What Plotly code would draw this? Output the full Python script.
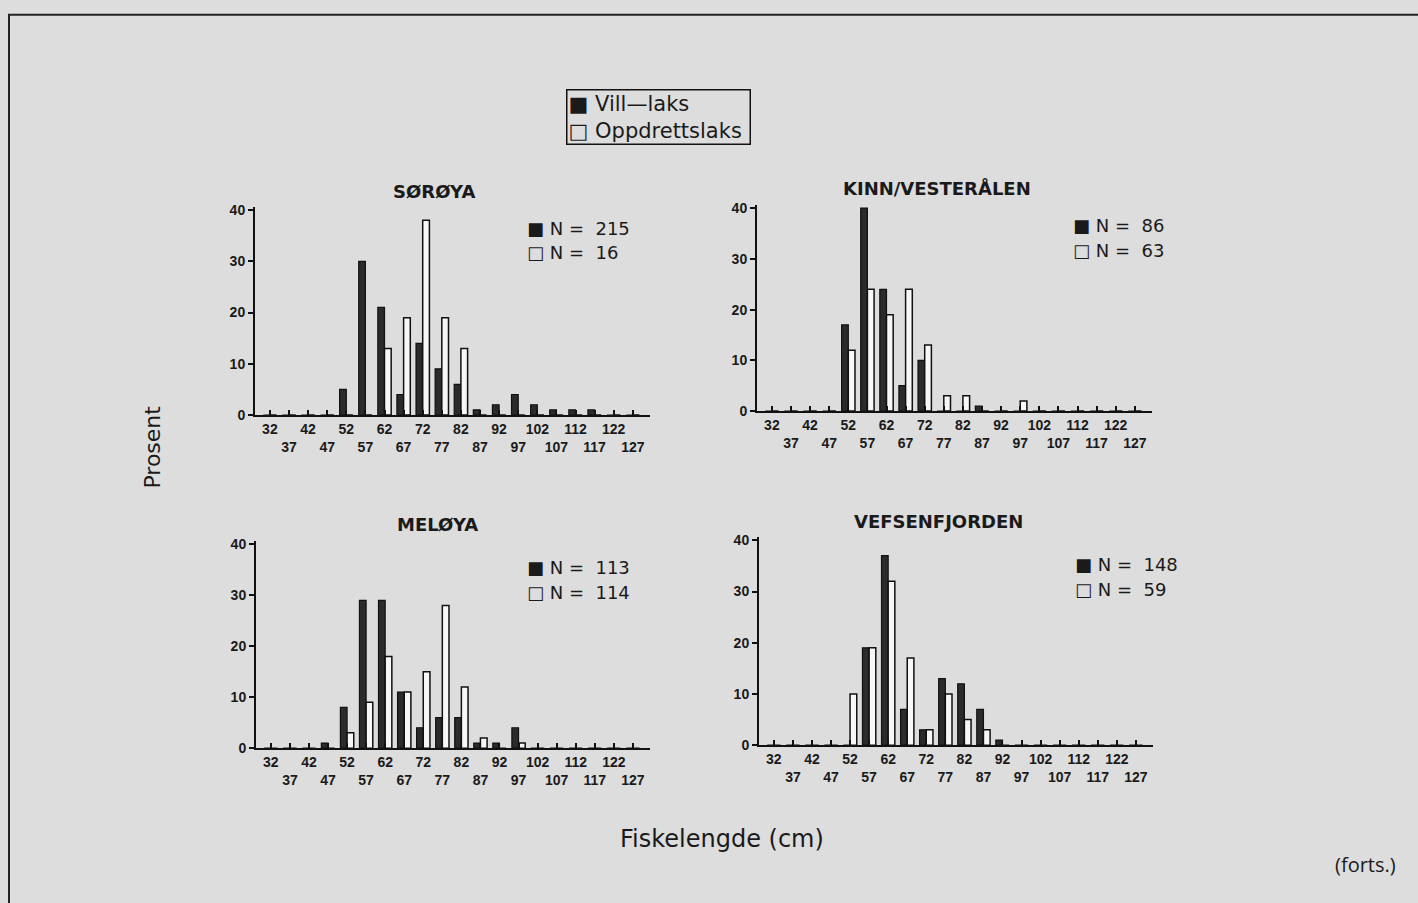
import plotly.graph_objects as go

# ---------------- data ----------------
lengths = [32, 37, 42, 47, 52, 57, 62, 67, 72, 77, 82, 87, 92, 97, 102, 107, 112, 117, 122, 127]

titles = ["SØRØYA", "KINN/VESTERÅLEN", "MELØYA", "VEFSENFJORDEN"]

soroya_vill = [0, 0, 0, 0, 5, 30, 21, 4, 14, 9, 6, 1, 2, 4, 2, 1, 1, 1, 0, 0]
soroya_oppd = [0, 0, 0, 0, 0, 0, 13, 19, 38, 19, 13, 0, 0, 0, 0, 0, 0, 0, 0, 0]

kinn_vill = [0, 0, 0, 0, 17, 40, 24, 5, 10, 0, 0, 1, 0, 0, 0, 0, 0, 0, 0, 0]
kinn_oppd = [0, 0, 0, 0, 12, 24, 19, 24, 13, 3, 3, 0, 0, 2, 0, 0, 0, 0, 0, 0]

meloya_vill = [0, 0, 0, 1, 8, 29, 29, 11, 4, 6, 6, 1, 1, 4, 0, 0, 0, 0, 0, 0]
meloya_oppd = [0, 0, 0, 0, 3, 9, 18, 11, 15, 28, 12, 2, 0, 1, 0, 0, 0, 0, 0, 0]

vefsen_vill = [0, 0, 0, 0, 0, 19, 37, 7, 3, 13, 12, 7, 1, 0, 0, 0, 0, 0, 0, 0]
vefsen_oppd = [0, 0, 0, 0, 10, 19, 32, 17, 3, 10, 5, 3, 0, 0, 0, 0, 0, 0, 0, 0]

n_vill = [215, 86, 113, 148]
n_oppd = [16, 63, 114, 59]

y_ticks = [0, 10, 20, 30, 40]
series_names = ["Vill—laks", "Oppdrettslaks"]

vill_all = [soroya_vill, kinn_vill, meloya_vill, vefsen_vill]
oppd_all = [soroya_oppd, kinn_oppd, meloya_oppd, vefsen_oppd]

# ---------------- layout geometry ----------------
W, H = 1418, 903
# pixel boxes: (x_left, x_right, y_zero_px, y_top_px)
boxes = [
    (255, 650, 416, 205),
    (757, 1152, 412, 203),
    (256, 650, 754, 544),
    (759, 1153, 751, 540),
]
title_pos = [(434, 189), (937, 186), (437, 527), (938, 524)]
n_pos = [(525, 227, 251), (1071, 224, 249), (525, 571, 596), (1073, 568, 593)]

DARK = "#2b2b2b"
BG = "#dddddd"
INK = "#1a1a1a"

fig = go.Figure()

ticktext = [str(v) if i % 2 == 0 else "<br>" + str(v) for i, v in enumerate(lengths)]

for k in range(4):
    sfx = "" if k == 0 else str(k + 1)
    fig.add_trace(go.Bar(
        x=lengths, y=vill_all[k], name=series_names[0],
        marker=dict(color=DARK, line=dict(color="#111111", width=1.2)),
        xaxis="x" + sfx, yaxis="y" + sfx, offsetgroup="a",
        legendgroup="vill", showlegend=False,
    ))
    fig.add_trace(go.Bar(
        x=lengths, y=oppd_all[k], name=series_names[1],
        marker=dict(color="#f7f7f7", line=dict(color="#111111", width=1.5)),
        xaxis="x" + sfx, yaxis="y" + sfx, offsetgroup="b",
        legendgroup="oppd", showlegend=False,
    ))

layout = dict(
    width=W, height=H, autosize=False,
    margin=dict(l=0, r=0, t=0, b=0),
    paper_bgcolor=BG, plot_bgcolor="rgba(0,0,0,0)",
    barmode="group", bargap=0.3, bargroupgap=0.0,
    font=dict(family="DejaVu Sans", color=INK),
    showlegend=False,
)

for k, (xl, xr, y0, yt) in enumerate(boxes):
    sfx = "" if k == 0 else str(k + 1)
    layout["xaxis" + sfx] = dict(
        domain=[xl / W, xr / W], anchor="y" + sfx,
        range=[28.1, 131.5],
        tickmode="array", tickvals=lengths, ticktext=ticktext,
        ticks="inside", ticklen=5, tickwidth=1.5, tickcolor="#111111",
        showline=True, linecolor="#111111", linewidth=2,
        showgrid=False, zeroline=False, fixedrange=True,
        tickfont=dict(family="Liberation Sans", size=14, color=INK, weight="bold"),
        tickangle=0,
    )
    layout["yaxis" + sfx] = dict(
        domain=[1 - y0 / H, 1 - yt / H], anchor="x" + sfx,
        range=[0, 40.6],
        tickmode="array", tickvals=y_ticks,
        ticks="outside", ticklen=5, tickwidth=1.5, tickcolor="#111111",
        showline=True, linecolor="#111111", linewidth=2,
        showgrid=False, zeroline=False, fixedrange=True,
        tickfont=dict(family="Liberation Sans", size=14, color=INK, weight="bold"),
    )

fig.update_layout(**layout)

annotations = []
for k in range(4):
    tx, ty = title_pos[k]
    annotations.append(dict(
        x=tx / W, y=1 - ty / H, xref="paper", yref="paper",
        text=titles[k], showarrow=False, xanchor="center", yanchor="middle",
        font=dict(family="DejaVu Sans", size=18, color=INK, weight="bold"),
    ))
    nx, ny1, ny2 = n_pos[k]
    annotations.append(dict(
        x=nx / W, y=1 - ny1 / H, xref="paper", yref="paper",
        text="■ N =  " + str(n_vill[k]), showarrow=False, xanchor="left", yanchor="middle",
        font=dict(family="DejaVu Sans", size=18, color=INK),
    ))
    annotations.append(dict(
        x=nx / W, y=1 - ny2 / H, xref="paper", yref="paper",
        text="□ N =  " + str(n_oppd[k]), showarrow=False, xanchor="left", yanchor="middle",
        font=dict(family="DejaVu Sans", size=18, color=INK),
    ))

# legend box
annotations.append(dict(
    x=566 / W, y=1 - 85 / H, xref="paper", yref="paper",
    text="■ " + series_names[0] + " <br>□ " + series_names[1] + " ",
    showarrow=False, xanchor="left", yanchor="top", align="left",
    bordercolor="#111111", borderwidth=1.5, borderpad=1,
    font=dict(family="DejaVu Sans", size=21, color=INK),
))

annotations.append(dict(
    x=153 / W, y=1 - 449 / H, xref="paper", yref="paper",
    text="Prosent", showarrow=False, textangle=-90, xanchor="center", yanchor="middle",
    font=dict(family="DejaVu Sans", size=22, color=INK),
))
annotations.append(dict(
    x=722 / W, y=1 - 846 / H, xref="paper", yref="paper",
    text="Fiskelengde (cm)", showarrow=False, xanchor="center", yanchor="middle",
    font=dict(family="DejaVu Sans", size=24, color=INK),
))
annotations.append(dict(
    x=1365 / W, y=1 - 872 / H, xref="paper", yref="paper",
    text="(forts.)", showarrow=False, xanchor="center", yanchor="middle",
    font=dict(family="Open Sans", size=20, color=INK),
))

fig.update_layout(
    annotations=annotations,
    shapes=[dict(
        type="rect", xref="paper", yref="paper",
        x0=9 / W, x1=1.02, y0=-0.02, y1=1 - 10 / H,
        line=dict(color="#222222", width=2), fillcolor="rgba(0,0,0,0)", layer="below",
    )],
)

fig.write_html(
    "out.html",
    config={"displayModeBar": False},
    post_script="document.body.style.margin='0px';",
)
